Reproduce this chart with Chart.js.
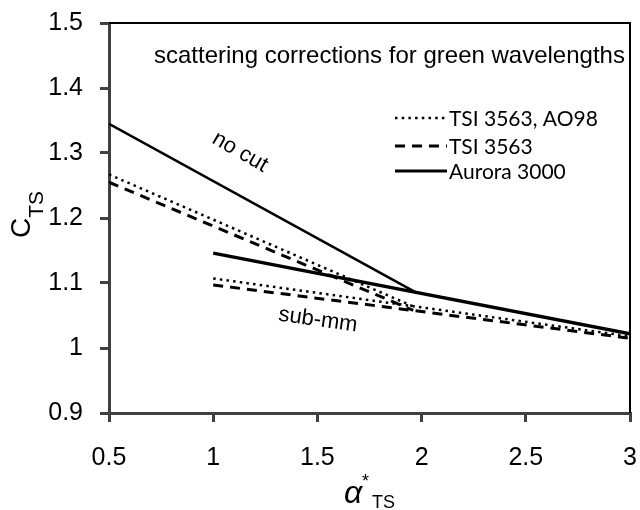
<!DOCTYPE html>
<html>
<head>
<meta charset="utf-8">
<script src="https://cdn.jsdelivr.net/npm/chart.js@4.4.1/dist/chart.umd.min.js"></script>
<style>
  html, body { margin: 0; padding: 0; background: #fff; }
  #wrap { width: 640px; height: 510px; }
</style>
</head>
<body>
<div id="wrap"><canvas id="grafico"></canvas></div>
<script>
// valores
const xTicks = [0.5, 1, 1.5, 2, 2.5, 3];
const xTickLabels = ['0.5', '1', '1.5', '2', '2.5', '3'];
const yTicks = [0.9, 1, 1.1, 1.2, 1.3, 1.4, 1.5];
const yTickLabels = ['0.9', '1', '1.1', '1.2', '1.3', '1.4', '1.5'];

// "no cut"
const xNoCutAurora = [0.5, 1.97];
const noCutAurora = [1.345, 1.086];
const xNoCutTsi = [0.5, 1.96];
const noCutAO98 = [1.267, 1.064];
const noCutTsi = [1.255, 1.058];

// "sub-mm"
const xSubMm = [1, 3];
const subMmAurora = [1.146, 1.022];
const subMmAO98 = [1.107, 1.018];
const subMmTsi = [1.097, 1.015];

const legendLabels = ['TSI 3563, AO98', 'TSI 3563', 'Aurora 3000'];

const pts = (xs, ys) => xs.map((x, i) => ({ x, y: ys[i] }));

const DOT = [2.5, 4.2];
const DASH = [10, 7];

function serie(label, xs, ys, dash, width) {
    return {
        label, data: pts(xs, ys), borderColor: '#000', borderWidth: width,
        borderDash: dash, pointRadius: 0, fill: false, tension: 0, borderCapStyle: 'butt'
    };
}

const AXIS = '#404040';
const tickFont = { family: 'Liberation Sans, Arial', size: 25 };

// fixa o tamanho dos eixos e zera o espaço extra dos rótulos
function fixar(s, prop, valor) {
    s[prop] = valor;
    s.paddingTop = 0; s.paddingBottom = 0; s.paddingLeft = 0; s.paddingRight = 0;
}

const textos = {
    id: 'textos',
    afterDraw(chart) {
        const { ctx, chartArea: a } = chart;
        ctx.save();
        // moldura superior e direita
        ctx.strokeStyle = '#000';
        ctx.lineWidth = 2;
        ctx.beginPath();
        ctx.moveTo(a.left, a.top);
        ctx.lineTo(a.right, a.top);
        ctx.lineTo(a.right, a.bottom);
        ctx.stroke();

        ctx.fillStyle = '#000';
        ctx.textBaseline = 'middle';

        // título interno
        ctx.font = '24px Liberation Sans, Arial';
        ctx.textAlign = 'left';
        ctx.fillText('scattering corrections for green wavelengths', 154, 56);

        // legenda
        const estilos = [DOT, DASH, []];
        const largura = [2.5, 3, 3];
        const ys = [118, 146, 171];
        ctx.font = '21px Lato, Open Sans';
        legendLabels.forEach((lab, i) => {
            ctx.beginPath();
            ctx.setLineDash(estilos[i]);
            ctx.lineWidth = largura[i];
            ctx.moveTo(395, ys[i]);
            ctx.lineTo(447, ys[i]);
            ctx.stroke();
            ctx.setLineDash([]);
            ctx.fillText(lab, 449, ys[i] + 1);
        });

        // rótulos das curvas
        ctx.font = '22px Liberation Sans, Arial';
        ctx.textAlign = 'center';
        ctx.save();
        ctx.translate(240, 152);
        ctx.rotate(30 * Math.PI / 180);
        ctx.fillText('no cut', 0, 0);
        ctx.restore();
        ctx.save();
        ctx.translate(318, 320);
        ctx.rotate(8 * Math.PI / 180);
        ctx.fillText('sub-mm', 0, 0);
        ctx.restore();

        // título eixo x: α*TS
        ctx.textAlign = 'left';
        ctx.textBaseline = 'alphabetic';
        ctx.font = 'italic 32px Liberation Sans, Arial';
        ctx.fillText('α', 344, 503);
        ctx.font = '18px Liberation Sans, Arial';
        ctx.fillText('*', 362, 487);
        ctx.fillText('TS', 372, 508);

        // título eixo y: CTS
        ctx.save();
        ctx.translate(30, 238);
        ctx.rotate(-Math.PI / 2);
        ctx.font = '28px Liberation Sans, Arial';
        ctx.fillText('C', 0, 0);
        const wC = ctx.measureText('C').width;
        ctx.font = '21px Liberation Sans, Arial';
        ctx.fillText('TS', wC, 13);
        ctx.restore();

        ctx.restore();
    }
};

new Chart(document.getElementById('grafico').getContext('2d'), {
    type: 'line',
    data: {
        datasets: [
            serie('no cut Aurora', xNoCutAurora, noCutAurora, [], 2.5),
            serie('no cut AO98', xNoCutTsi, noCutAO98, DOT, 2.5),
            serie('no cut TSI', xNoCutTsi, noCutTsi, DASH, 3),
            serie('sub-mm Aurora', xSubMm, subMmAurora, [], 3.5),
            serie('sub-mm AO98', xSubMm, subMmAO98, DOT, 2.5),
            serie('sub-mm TSI', xSubMm, subMmTsi, DASH, 3)
        ]
    },
    options: {
        responsive: true, maintainAspectRatio: false, animation: false,
        layout: { padding: { top: 23, right: 10, left: 0, bottom: 0 } },
        plugins: { legend: { display: false }, tooltip: { enabled: false } },
        scales: {
            x: {
                type: 'linear', min: 0.5, max: 3,
                afterBuildTicks: s => { s.ticks = xTicks.map(v => ({ value: v })); },
                afterFit: s => fixar(s, 'height', 97),
                ticks: { callback: (v, i) => xTickLabels[i], color: '#000', font: tickFont, padding: 21, maxRotation: 0 },
                grid: { drawOnChartArea: false, color: AXIS, lineWidth: 3, tickLength: 9 },
                border: { color: AXIS, width: 3 }
            },
            y: {
                type: 'linear', min: 0.9, max: 1.5,
                afterBuildTicks: s => { s.ticks = yTicks.map(v => ({ value: v })); },
                afterFit: s => fixar(s, 'width', 109),
                ticks: { callback: (v, i) => yTickLabels[i], color: '#000', font: tickFont, padding: 17 },
                grid: { drawOnChartArea: false, color: AXIS, lineWidth: 3, tickLength: 9 },
                border: { color: AXIS, width: 3 }
            }
        }
    },
    plugins: [textos]
});
</script>
</body>
</html>
